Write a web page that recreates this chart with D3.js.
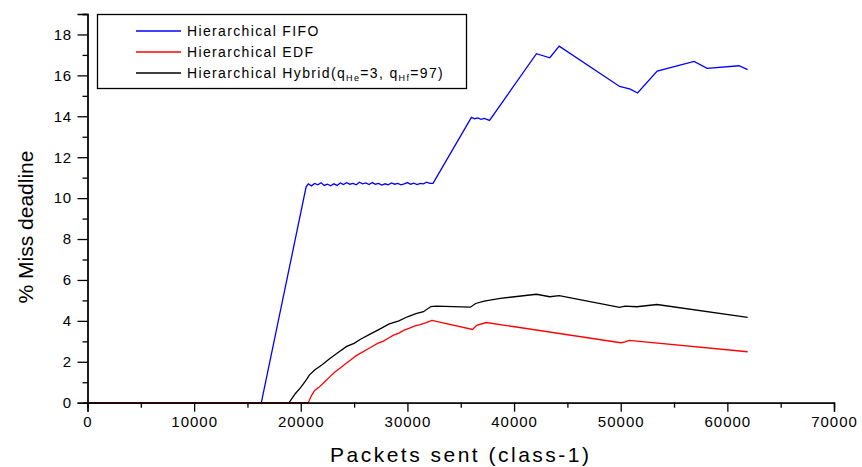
<!DOCTYPE html>
<html><head><meta charset="utf-8">
<script src="https://cdn.jsdelivr.net/npm/d3@7"></script>
<style>
body{margin:0;background:#fff;}
svg{display:block;}
text{font-family:"Liberation Sans",Arial,Helvetica,sans-serif;fill:#000;}
</style></head>
<body><svg id="c" width="862" height="467"></svg>
<script>
const fifoX=[0,16300,20500,20700,21000,21300,21600,21900,22200,22500,22800,23100,23400,23700,24000,24300,24600,24900,25200,25500,25800,26100,26400,26700,27000,27300,27600,27900,28200,28500,28800,29100,29400,29700,30000,30300,30600,30900,31200,31500,31800,32100,32400,36000,36300,36600,36900,37200,37700,42100,43350,44230,49900,50900,51580,53420,56880,58100,61100,61900];
const fifoY=[0,0,10.55,10.7,10.6,10.72,10.65,10.75,10.62,10.68,10.6,10.7,10.62,10.74,10.66,10.75,10.68,10.72,10.65,10.78,10.7,10.74,10.66,10.76,10.68,10.72,10.64,10.7,10.65,10.74,10.68,10.72,10.65,10.7,10.76,10.68,10.73,10.66,10.72,10.7,10.78,10.72,10.72,13.95,13.88,13.92,13.85,13.9,13.8,17.06,16.86,17.43,15.46,15.33,15.14,16.21,16.68,16.34,16.47,16.28];
const edfX=[0,20700,21000,21300,21700,22200,22700,23200,23700,24200,24700,25200,25700,26200,26700,27200,27700,28200,28700,29200,29700,30200,30700,31200,31700,32300,36100,36500,37400,50000,50400,50800,61900];
const edfY=[0,0,0.35,0.6,0.75,1.0,1.25,1.5,1.7,1.9,2.1,2.3,2.45,2.6,2.75,2.9,3.0,3.15,3.3,3.4,3.55,3.65,3.75,3.82,3.9,4.02,3.58,3.78,3.92,2.93,2.97,3.05,2.49];
const hybX=[0,18900,19500,20000,20500,20800,21300,22000,22700,23500,24300,25000,25600,26500,27400,28300,29200,30000,30800,31500,32200,32700,35900,36400,37200,38700,42100,43350,44230,49900,50400,51500,53400,61900];
const hybY=[0,0,0.45,0.75,1.1,1.35,1.6,1.85,2.15,2.45,2.75,2.9,3.1,3.35,3.6,3.85,4.0,4.2,4.35,4.45,4.7,4.72,4.67,4.85,4.97,5.1,5.3,5.18,5.23,4.66,4.72,4.69,4.8,4.17];
const xMajor=[0,10000,20000,30000,40000,50000,60000,70000];
const yMajor=[0,2,4,6,8,10,12,14,16,18];
const seriesNames=["Hierarchical FIFO","Hierarchical EDF","Hierarchical Hybrid"];
const seriesColors=["#0000ff","#ff0000","#000000"];

const svg=d3.select("#c");
const L=87.5,R=834,T=14,B=402.7;
const x=d3.scaleLinear().domain([0,70000]).range([L,R]);
const y=d3.scaleLinear().domain([0,19]).range([B,T]);

const series=[
 {x:fifoX,y:fifoY,c:seriesColors[0]},
 {x:hybX,y:hybY,c:seriesColors[2]},
 {x:edfX,y:edfY,c:seriesColors[1]}
];
const line=d3.line().x(d=>x(d[0])).y(d=>y(d[1]));
series.forEach(s=>{
  svg.append("path").datum(s.x.map((v,i)=>[v,s.y[i]]))
   .attr("d",line).attr("fill","none").attr("stroke",s.c).attr("stroke-width",1.3);
});

// x axis
const gx=svg.append("g").attr("transform",`translate(0,${B})`);
gx.call(d3.axisBottom(x).tickValues(d3.range(5000,70000,10000)).tickSize(5).tickFormat(""));
gx.call(g=>g.append("g").call(d3.axisBottom(x).tickValues(xMajor).tickSize(9).tickPadding(5).tickFormat(d=>d)));
gx.selectAll(".domain").attr("stroke","#000").attr("stroke-width",1.3);
gx.selectAll(".tick line").attr("stroke","#000").attr("stroke-width",1.3);
gx.selectAll("text").attr("font-size",15).attr("letter-spacing","1px").attr("font-family","Liberation Sans, Arial").attr("fill","#000");

// y axis
const gy=svg.append("g").attr("transform",`translate(${L},0)`);
gy.call(d3.axisLeft(y).tickValues(d3.range(1,20,2)).tickSize(5).tickFormat(""));
gy.call(g=>g.append("g").call(d3.axisLeft(y).tickValues(yMajor).tickSize(10).tickPadding(6).tickFormat(d=>d)));
gy.selectAll(".domain").attr("stroke","#000").attr("stroke-width",1.3);
gy.selectAll(".tick line").attr("stroke","#000").attr("stroke-width",1.3);
gy.selectAll("text").attr("font-size",15).attr("letter-spacing","0.5px").attr("font-family","Liberation Sans, Arial").attr("fill","#000");

// titles
svg.append("text").attr("x",(L+R)/2).attr("y",462).attr("text-anchor","middle")
 .attr("font-size",21).attr("letter-spacing","2.5px").text("Packets sent (class-1)");
svg.append("text").attr("transform","translate(33,227) rotate(-90)").attr("text-anchor","middle")
 .attr("font-size",21).text("% Miss deadline");

// legend
const lg=svg.append("g");
lg.append("rect").attr("x",97.5).attr("y",14.5).attr("width",369).attr("height",74)
 .attr("fill","#fff").attr("stroke","#000").attr("stroke-width",1.3);
const rows=[31,52,73];
const order=[0,1,2];
order.forEach((k,i)=>{
  lg.append("line").attr("x1",136).attr("x2",181).attr("y1",rows[i]).attr("y2",rows[i])
   .attr("stroke",seriesColors[k]).attr("stroke-width",1.3);
});
const tx=187, fs=14, ls="1.35px";
lg.append("text").attr("x",tx).attr("y",rows[0]+5).attr("font-size",fs).attr("letter-spacing",ls).text(seriesNames[0]);
lg.append("text").attr("x",tx).attr("y",rows[1]+5).attr("font-size",fs).attr("letter-spacing",ls).text(seriesNames[1]);
const t3=lg.append("text").attr("x",tx).attr("y",rows[2]+5).attr("font-size",fs).attr("letter-spacing",ls);
t3.append("tspan").text(seriesNames[2]+"(q");
t3.append("tspan").attr("font-size",9).attr("dy",3).text("He");
t3.append("tspan").attr("dy",-3).text("=3, q");
t3.append("tspan").attr("font-size",9).attr("dy",3).text("Hf");
t3.append("tspan").attr("dy",-3).text("=97)");
</script></body></html>
